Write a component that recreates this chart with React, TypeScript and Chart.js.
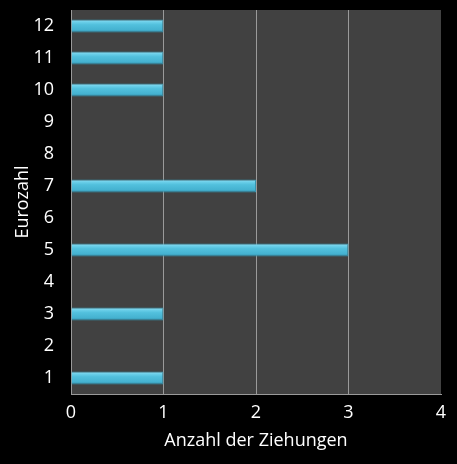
import React, { useEffect, useRef } from 'react';
import { Chart, registerables } from 'chart.js';

Chart.register(...registerables);

// Eurozahl categories (bottom to top) and how often each was drawn
const eurozahlen = ['1', '2', '3', '4', '5', '6', '7', '8', '9', '10', '11', '12'];
const anzahl = [1, 0, 1, 0, 3, 0, 2, 0, 0, 1, 1, 1];
const xTicks = [0, 1, 2, 3, 4];

const FONT = '"Open Sans", "DejaVu Sans", sans-serif';

const plotBackground = {
    id: 'plotBackground',
    beforeDraw(chart: Chart) {
        const { ctx, chartArea } = chart;
        ctx.save();
        ctx.fillStyle = '#414141';
        ctx.fillRect(chartArea.left, chartArea.top, chartArea.right - chartArea.left, chartArea.bottom - chartArea.top);
        ctx.restore();
    },
};

const App: React.FC = () => {
    const chartRef = useRef<HTMLCanvasElement>(null);
    const chartInstanceRef = useRef<Chart | null>(null);

    useEffect(() => {
        document.body.style.margin = '0';
        document.body.style.background = '#000';
        if (!chartRef.current) return;
        const ctx = chartRef.current.getContext('2d');
        if (!ctx) return;
        if (chartInstanceRef.current) chartInstanceRef.current.destroy();

        chartInstanceRef.current = new Chart(ctx, {
            type: 'bar',
            data: {
                labels: eurozahlen,
                datasets: [
                    {
                        label: 'Anzahl',
                        data: anzahl,
                        backgroundColor: (c: any) => {
                            const chart = c.chart;
                            const yScale = chart.scales?.y;
                            if (!yScale || c.dataIndex === undefined) return '#4bbbd9';
                            const yc = yScale.getPixelForValue(c.dataIndex);
                            if (!Number.isFinite(yc)) return '#4bbbd9';
                            const g = chart.ctx.createLinearGradient(0, yc - 6.5, 0, yc + 6.5);
                            g.addColorStop(0, '#9be4f6');
                            g.addColorStop(0.18, '#6dd0ea');
                            g.addColorStop(0.4, '#52c0dd');
                            g.addColorStop(0.8, '#45b2d0');
                            g.addColorStop(1, '#2f8aa3');
                            return g;
                        },
                        borderColor: '#3592ad',
                        borderWidth: 1,
                        borderSkipped: 'left',
                        categoryPercentage: 1,
                        barPercentage: 0.4,
                    },
                ],
            },
            options: {
                indexAxis: 'y',
                responsive: false,
                animation: false,
                layout: { padding: { top: 10, right: 16, left: 0, bottom: 0 } },
                plugins: {
                    legend: { display: false },
                    tooltip: { enabled: false },
                },
                scales: {
                    x: {
                        min: 0,
                        max: 4,
                        afterBuildTicks: (scale: any) => {
                            scale.ticks = xTicks.map((v) => ({ value: v }));
                        },
                        afterFit: (scale: any) => {
                            scale.height = 70;
                            scale.paddingLeft = 0;
                            scale.paddingRight = 0;
                        },
                        grid: {
                            color: (c: any) => (c.tick && c.tick.value === 4 ? 'rgba(0,0,0,0)' : '#9a9a9a'),
                            lineWidth: 1,
                            drawTicks: false,
                        },
                        border: { display: true, color: '#9a9a9a' },
                        ticks: {
                            color: '#ffffff',
                            padding: 8,
                            font: { family: FONT, size: 18 },
                        },
                        title: {
                            display: true,
                            text: 'Anzahl der Ziehungen',
                            color: '#ffffff',
                            font: { family: FONT, size: 18 },
                            padding: { top: 0, bottom: 12 },
                        },
                    },
                    y: {
                        reverse: true,
                        afterFit: (scale: any) => {
                            scale.width = 71;
                            scale.paddingTop = 0;
                            scale.paddingBottom = 0;
                        },
                        grid: { display: false, drawTicks: false },
                        border: { display: true, color: '#9a9a9a' },
                        ticks: {
                            color: '#ffffff',
                            padding: 17,
                            font: { family: FONT, size: 18 },
                        },
                        title: {
                            display: true,
                            text: 'Eurozahl',
                            color: '#ffffff',
                            font: { family: FONT, size: 18 },
                            padding: { top: 12, bottom: 0 },
                        },
                    },
                },
            },
            plugins: [plotBackground],
        });

        return () => {
            if (chartInstanceRef.current) {
                chartInstanceRef.current.destroy();
                chartInstanceRef.current = null;
            }
        };
    }, []);

    return (
        <div style={{ position: 'absolute', left: 0, top: 0, width: 457, height: 464, background: '#000' }}>
            <canvas ref={chartRef} width={457} height={464}></canvas>
        </div>
    );
};

export default App;
